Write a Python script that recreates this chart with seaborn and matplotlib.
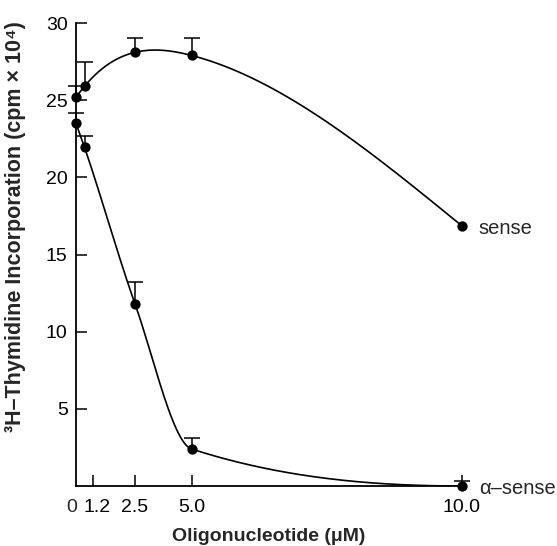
import numpy as np
import pandas as pd
import matplotlib
matplotlib.use("Agg")
import matplotlib.pyplot as plt
import matplotlib.transforms as mtrans
import seaborn as sns

# ---- data ----
conc = [0.0, 0.6, 2.5, 5.0, 10.0]
sense = [25.2, 25.9, 28.1, 27.9, 16.85]
sense_err = [0.75, 1.55, 0.9, 1.15, 0.0]
asense = [23.5, 21.95, 11.8, 2.4, 0.0]
asense_err = [0.7, 0.75, 1.4, 0.7, 0.35]
xtick_vals = [0.0, 1.2, 2.5, 5.0, 10.0]
xtick_labels = ["0", "1.2", "2.5", "5.0", "10.0"]
ytick_vals = [5, 10, 15, 20, 25, 30]

# ---- non-uniform x axis of the original figure (piecewise linear) ----
scale_knots = np.array([0.0, 1.2, 2.5, 5.0, 10.0])
scale_pos = np.array([0.0, 17.0, 59.0, 115.5, 386.0])


def _pw(x, a, b):
    x = np.asarray(x, dtype=float)
    out = np.interp(x, a, b)
    lo = x < a[0]
    hi = x > a[-1]
    s0 = (b[1] - b[0]) / (a[1] - a[0])
    s1 = (b[-1] - b[-2]) / (a[-1] - a[-2])
    out = np.where(lo, b[0] + (x - a[0]) * s0, out)
    out = np.where(hi, b[-1] + (x - a[-1]) * s1, out)
    return out


def fwd(x):
    return _pw(x, scale_knots, scale_pos)


def inv(u):
    return _pw(u, scale_pos, scale_knots)


def natural_spline(u, y, uu):
    u = np.asarray(u, float); y = np.asarray(y, float)
    n = len(u)
    h = np.diff(u)
    A = np.zeros((n, n)); r = np.zeros(n)
    A[0, 0] = 1; A[-1, -1] = 1
    for i in range(1, n - 1):
        A[i, i - 1] = h[i - 1]
        A[i, i] = 2 * (h[i - 1] + h[i])
        A[i, i + 1] = h[i]
        r[i] = 3 * ((y[i + 1] - y[i]) / h[i] - (y[i] - y[i - 1]) / h[i - 1])
    c = np.linalg.solve(A, r)
    idx = np.clip(np.searchsorted(u, uu) - 1, 0, n - 2)
    dx = uu - u[idx]
    b = (y[idx + 1] - y[idx]) / h[idx] - h[idx] * (2 * c[idx] + c[idx + 1]) / 3
    d = (c[idx + 1] - c[idx]) / (3 * h[idx])
    return y[idx] + b * dx + c[idx] * dx ** 2 + d * dx ** 3


def pchip(u, y, uu):
    u = np.asarray(u, float); y = np.asarray(y, float)
    h = np.diff(u); dl = np.diff(y) / h
    n = len(u)
    m = np.zeros(n)
    for i in range(1, n - 1):
        if dl[i - 1] * dl[i] > 0:
            w1 = 2 * h[i] + h[i - 1]; w2 = h[i] + 2 * h[i - 1]
            m[i] = (w1 + w2) / (w1 / dl[i - 1] + w2 / dl[i])
    m[0] = dl[0]
    m[-1] = 0.0
    idx = np.clip(np.searchsorted(u, uu) - 1, 0, n - 2)
    t = (uu - u[idx]) / h[idx]
    h00 = 2 * t**3 - 3 * t**2 + 1; h10 = t**3 - 2 * t**2 + t
    h01 = -2 * t**3 + 3 * t**2; h11 = t**3 - t**2
    return (h00 * y[idx] + h10 * h[idx] * m[idx] + h01 * y[idx + 1]
            + h11 * h[idx] * m[idx + 1])


# smooth curves computed in the displayed (transformed) coordinate
uc = fwd(conc)
uu = np.linspace(uc[0], uc[-1], 400)
curve = pd.DataFrame({
    "x": np.concatenate([inv(uu), inv(uu)]),
    "y": np.concatenate([natural_spline(uc, sense, uu), pchip(uc, asense, uu)]),
    "series": ["sense"] * len(uu) + ["a-sense"] * len(uu),
})
pts = pd.DataFrame({
    "x": conc + conc,
    "y": sense + asense,
    "series": ["sense"] * 5 + ["a-sense"] * 5,
})

sns.set_style("ticks")
plt.rcParams["font.family"] = ["Liberation Sans", "DejaVu Sans"]

fig = plt.figure(figsize=(5.57, 5.46), dpi=100)
ax = fig.add_axes([76 / 557, 60 / 546, (462 - 76) / 557, (486 - 23) / 546])
ax.set_xscale("function", functions=(fwd, inv))

sns.lineplot(data=curve, x="x", y="y", units="series", estimator=None,
             color="black", lw=1.2, ax=ax, sort=False, legend=False)

# upward-only error bars (caps only at the top)
for ys, es in [(sense, sense_err), (asense, asense_err)]:
    xs_e = [x for x, e in zip(conc, es) if e > 0]
    ys_e = [y for y, e in zip(ys, es) if e > 0]
    es_e = [e for e in es if e > 0]
    _, caps, _ = ax.errorbar(xs_e, ys_e, yerr=[np.zeros(len(es_e)), es_e],
                             fmt="none", ecolor="black", elinewidth=1.1,
                             capsize=5.5, capthick=1.1, clip_on=False)
    for cl in caps:
        cl.set_clip_on(False)
        if np.allclose(cl.get_ydata(), ys_e):
            cl.set_visible(False)

sns.scatterplot(data=pts, x="x", y="y", color="black", s=55, edgecolor="black",
                linewidth=0, ax=ax, legend=False, zorder=5, clip_on=False)

ax.set_xlim(0, 10.0)
ax.set_ylim(0, 30)
ax.set_xticks(xtick_vals[1:])
ax.set_xticklabels(xtick_labels[1:])
ax.set_yticks(ytick_vals)
ax.set_yticklabels([str(v) for v in ytick_vals])
ax.minorticks_off()
ax.tick_params(axis="both", direction="in", length=8, width=1.1,
               labelsize=14, colors="black")
ax.tick_params(axis="x", pad=9)
ax.tick_params(axis="y", pad=6)
fig.canvas.draw()
shift = mtrans.ScaledTranslation(4 / 100, 0, fig.dpi_scale_trans)
for lbl in ax.get_xticklabels():
    if lbl.get_text() == "1.2":
        lbl.set_transform(lbl.get_transform() + shift)
ax.text(-0.01, -0.028, xtick_labels[0], transform=ax.transAxes,
        ha="center", va="top", fontsize=14)
for s in ["top", "right"]:
    ax.spines[s].set_visible(False)
for s in ["left", "bottom"]:
    ax.spines[s].set_linewidth(1.3)
    ax.spines[s].set_color("black")

ax.set_xlabel("Oligonucleotide (μM)", fontsize=14, fontweight="bold")
ax.xaxis.set_label_coords(0.5, -0.09)
ax.set_ylabel("³H–Thymidine Incorporation (cpm × 10⁴)", fontsize=15.5,
              fontweight="bold")
ax.yaxis.set_label_coords(-0.13, 0.56)

ax.annotate("sense", xy=(conc[-1], sense[-1]), xytext=(12, -2),
            textcoords="offset points", ha="left", va="center", fontsize=14.5,
            annotation_clip=False)
ax.annotate("α–sense", xy=(conc[-1], asense[-1]), xytext=(12, -2),
            textcoords="offset points", ha="left", va="center", fontsize=14.5,
            annotation_clip=False)

fig.savefig("out.png", dpi=100)
